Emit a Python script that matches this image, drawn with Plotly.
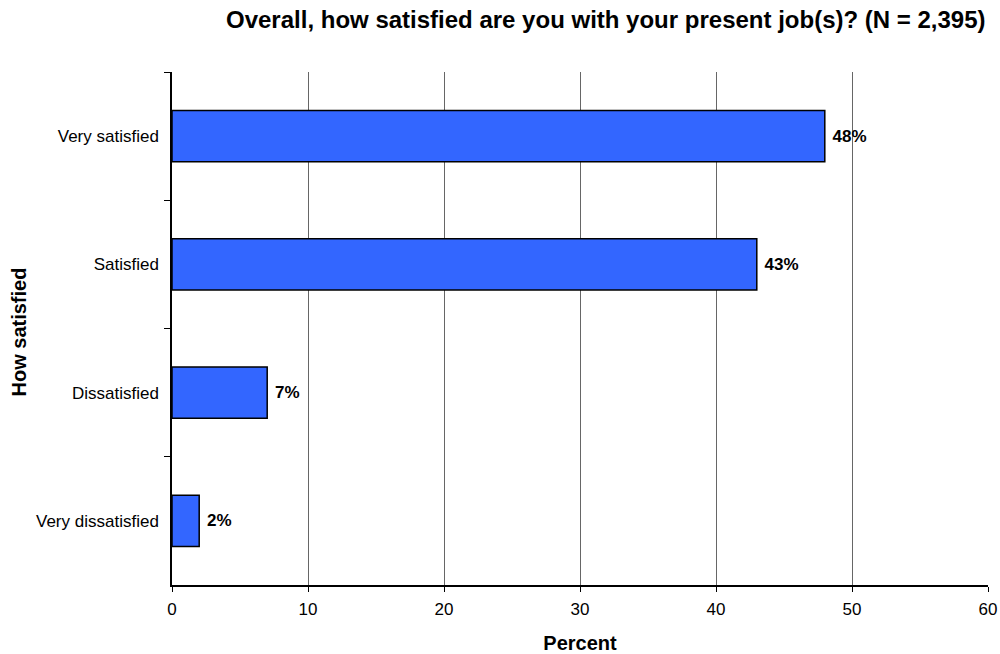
import plotly.graph_objects as go

# Survey responses: overall job satisfaction
categories = ["Very satisfied", "Satisfied", "Dissatisfied", "Very dissatisfied"]
percent = [48, 43, 7, 2]
x_ticks = [0, 10, 20, 30, 40, 50, 60]

labels = [f"{v}%" for v in percent]

FONT = "Liberation Sans, Arial, sans-serif"

fig = go.Figure(
    go.Bar(
        x=percent,
        y=categories,
        orientation="h",
        marker=dict(color="#3366FF", line=dict(color="#000000", width=1.5)),
        text=labels,
        textposition="outside",
        textfont=dict(family=FONT, size=17, color="#000000"),
        texttemplate="\u00a0<b>%{text}</b>",
        cliponaxis=False,
        width=0.4,
    )
)

fig.update_layout(
    width=1000,
    height=654,
    margin=dict(l=172, r=12, t=72, b=69),
    paper_bgcolor="white",
    plot_bgcolor="white",
    showlegend=False,
    font=dict(family=FONT, size=17, color="#000000"),
    annotations=[
        dict(
            text="<b>Overall, how satisfied are you with your present job(s)? (N = 2,395)</b>",
            xref="paper", yref="paper", x=1.0, y=1.0,
            xanchor="right", yanchor="middle", yshift=53,
            showarrow=False,
            font=dict(family=FONT, size=24, color="#000000"),
        ),
        # vertical axis title
        dict(
            text="<b>How satisfied</b>",
            xref="paper", yref="paper", x=0.0, y=0.5,
            xanchor="center", yanchor="middle", xshift=-154, yshift=-4,
            textangle=-90,
            showarrow=False,
            font=dict(family=FONT, size=20, color="#000000"),
        ),
    ],
)

fig.update_xaxes(
    range=[0, 60],
    tickvals=x_ticks,
    automargin=False,
    showgrid=True,
    gridcolor="#666666",
    gridwidth=1,
    zeroline=False,
    showline=True,
    linecolor="#000000",
    linewidth=2,
    ticks="outside",
    ticklen=5,
    tickcolor="#000000",
    tickfont=dict(size=17),
    ticklabelstandoff=3,
    title=dict(text="<b>Percent</b>", font=dict(size=20), standoff=20),
)

fig.update_yaxes(
    categoryorder="array",
    categoryarray=categories,
    autorange="reversed",
    automargin=False,
    showgrid=False,
    showline=True,
    linecolor="#000000",
    linewidth=1.5,
    ticks="outside",
    tickson="boundaries",
    ticklen=6,
    tickcolor="#000000",
    tickfont=dict(size=17),
    ticklabelstandoff=8,
)

fig.write_html("out.html")
